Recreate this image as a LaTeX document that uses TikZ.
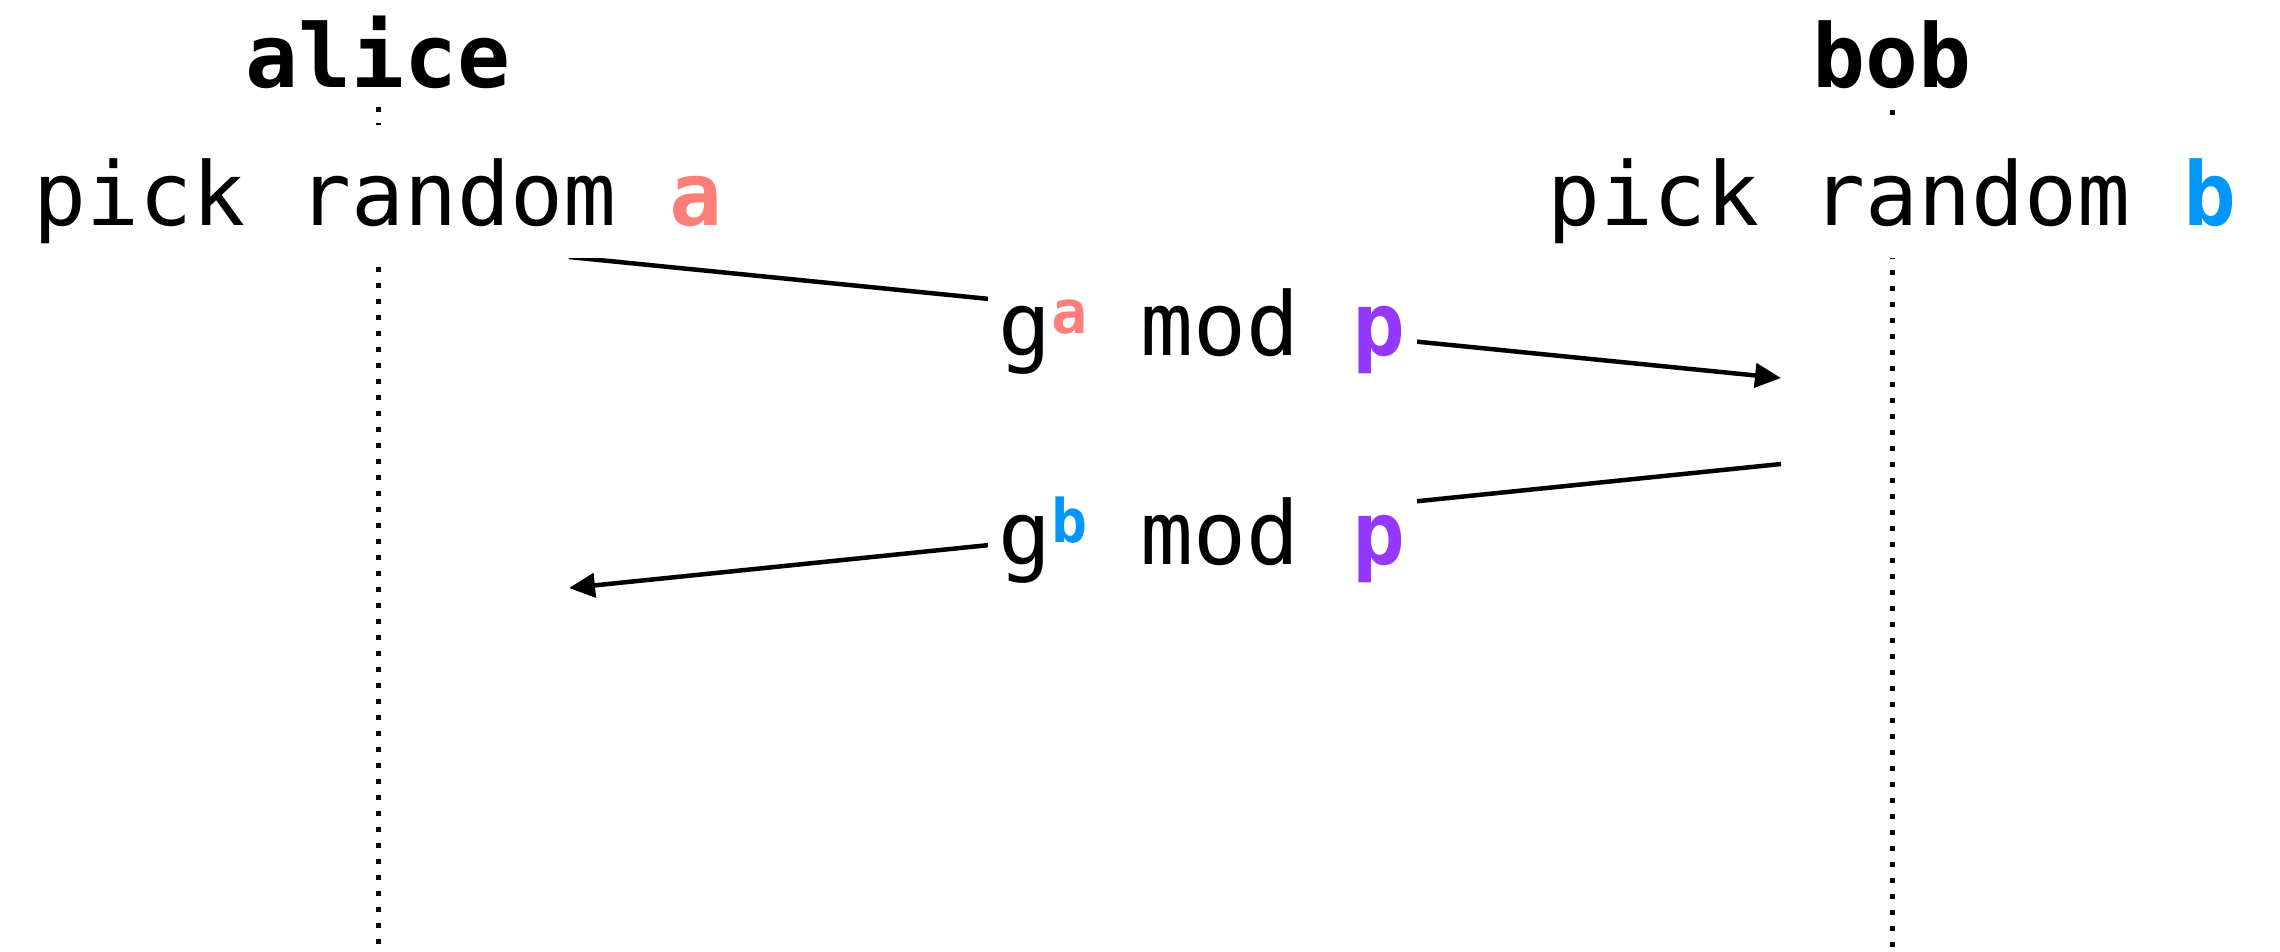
\documentclass[tikz,border=0pt]{standalone}
\usepackage{fontspec}
\setmonofont{DejaVu Sans Mono}
\usetikzlibrary{arrows.meta,backgrounds}
\definecolor{salmon}{HTML}{FF7E79}
\definecolor{aqua}{HTML}{0096FF}
\definecolor{grape}{HTML}{9437FF}
\newcommand{\supl}[2]{\raisebox{22pt}{\fontsize{60}{60}\selectfont\bfseries\color{#1}#2}}
\begin{document}
\begin{tikzpicture}[x=1pt,y=-1pt,
  txt/.style={font=\ttfamily\fontsize{88}{100}\selectfont, inner sep=0pt, fill=white, anchor=base},
  actor/.style={txt, font=\ttfamily\bfseries\fontsize{88}{100}\selectfont, text depth=16pt},
  pickbox/.style={txt, text height=100pt, text depth=33pt},
  msglabel/.style={txt, inner xsep=11pt, inner ysep=6pt},
  lifeline/.style={line width=5pt, dash pattern=on 5pt off 11pt, black},
  msg/.style={line width=4.5pt, black, -{Triangle[length=26pt,width=24pt]}}
]
\useasboundingbox (0,0) rectangle (2280,951);
% actors
\node[actor] (alice) at (378,87) {alice};
\node[actor] (bob) at (1892,87) {bob};
\node[pickbox] (pickA) at (378,225) {pick random \textbf{\color{salmon}a}};
\node[pickbox] (pickB) at (1892,225) {pick random \textbf{\color{aqua}b}};
% message labels
\node[msglabel] (l1) at (1202,355) {g\supl{salmon}{a} mod \textbf{\color{grape}p}};
\node[msglabel] (l2) at (1202,564) {g\supl{aqua}{b} mod \textbf{\color{grape}p}};
% end points
\coordinate (aliceEnd) at (378,951);
\coordinate (bobEnd) at (1892,951);
\coordinate (m1s) at (569,257);
\coordinate (m1e) at (1781,378);
\coordinate (m2s) at (1781,464);
\coordinate (m2e) at (569,588);
\begin{scope}[on background layer]
  \draw[lifeline] (alice.center) -- (aliceEnd);
  \draw[lifeline] (bob.center) -- (bobEnd);
  \draw[msg] (m1s) -- (m1e);
  \draw[msg] (m2s) -- (m2e);
\end{scope}
\end{tikzpicture}
\end{document}
